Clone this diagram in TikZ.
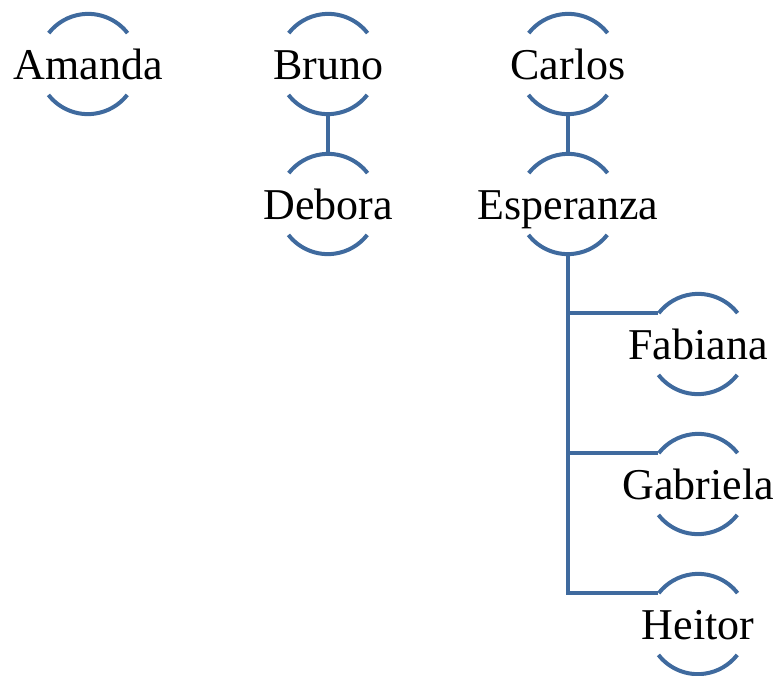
\documentclass[tikz,border=0pt]{standalone}
\usepackage{fontspec}
\setmainfont{Liberation Serif}
\usetikzlibrary{positioning}
\definecolor{arcCol}{HTML}{3F6A9E}
\newcommand{\pname}[1]{\makebox[0pt]{#1}}

\begin{document}
\begin{tikzpicture}[
    x=1pt, y=1pt,
    font=\fontsize{44}{48}\selectfont,
    on grid,
    node distance=140pt and 240pt,
    member/.style={circle, minimum size=100pt, inner sep=0pt,
      text height=30pt, text depth=0pt},
    arcline/.style={draw=arcCol, line width=4pt},
    link/.style={draw=arcCol, line width=4pt},
  ]
\useasboundingbox (0,0) rectangle (779,-675);

% Top row
\node[member] (amanda) at (88,-64) {\pname{Amanda}};
\node[member, right=of amanda] (bruno) {\pname{Bruno}};
\node[member, right=of bruno] (carlos) {\pname{Carlos}};

% Second row
\node[member, below=of bruno] (debora) {\pname{Debora}};
\node[member, below=of carlos] (esperanza) {\pname{Esperanza}};

% Children of Esperanza
\node[member, below right=140pt and 130pt of esperanza] (fabiana) {\pname{Fabiana}};
\node[member, below=of fabiana] (gabriela) {\pname{Gabriela}};
\node[member, below=of gabriela] (heitor) {\pname{Heitor}};

% Top and bottom arcs of every circle
\foreach \n in {amanda,bruno,carlos,debora,esperanza,fabiana,gabriela,heitor} {
  \draw[arcline] (\n.38) arc[start angle=38, end angle=142, radius=50pt];
  \draw[arcline] (\n.218) arc[start angle=218, end angle=322, radius=50pt];
}

% Connectors
\draw[link] (bruno.south) -- (debora.north);
\draw[link] (carlos.south) -- (esperanza.north);
\draw[link] (esperanza.south) |- (fabiana.142);
\draw[link] (esperanza.south) |- (gabriela.142);
\draw[link] (esperanza.south) |- (heitor.142);

\end{tikzpicture}
\end{document}
